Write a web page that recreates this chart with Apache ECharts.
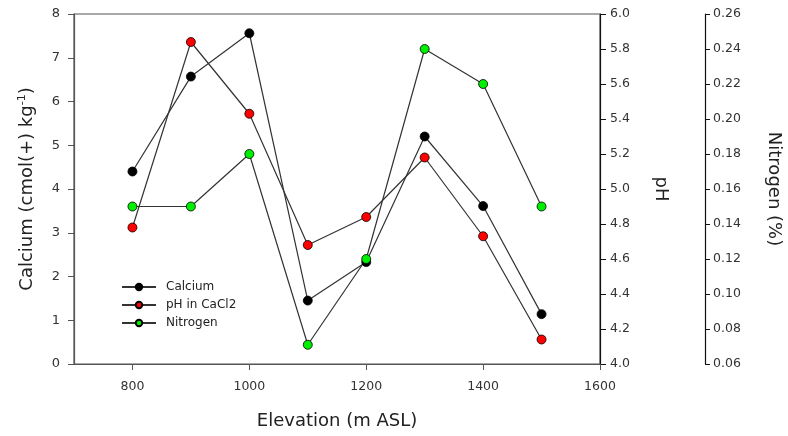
<!DOCTYPE html>
<html>
<head>
<meta charset="utf-8">
<script src="https://cdn.jsdelivr.net/npm/echarts@6/dist/echarts.min.js"></script>
<style>html,body{margin:0;padding:0;background:#fff}#c{width:788px;height:436px}</style>
</head>
<body>
<div id="c"></div>
<script>
var elevations = [800, 900, 1000, 1100, 1200, 1300, 1400, 1500];
var calcium = [4.40, 6.57, 7.56, 1.45, 2.33, 5.20, 3.61, 1.14];
var phCaCl2 = [4.78, 5.84, 5.43, 4.68, 4.84, 5.18, 4.73, 4.14];
var nitrogen = [0.15, 0.15, 0.18, 0.071, 0.12, 0.24, 0.22, 0.15];
var xTicks = [800, 1000, 1200, 1400, 1600];

function pairs(vals) { return elevations.map(function (e, i) { return [e, vals[i]]; }); }

var font = 'DejaVu Sans, Liberation Sans, sans-serif';
var chart = echarts.init(document.getElementById('c'), null, { renderer: 'canvas' });
function mkSeries(name, vals, fill, yi) {
  return {
    name: name, type: 'line', yAxisIndex: yi, data: pairs(vals),
    symbol: 'circle', symbolSize: 9,
    lineStyle: { color: '#333', width: 1.2 },
    itemStyle: { color: fill, borderColor: '#000', borderWidth: 0.8 },
    emphasis: { disabled: true }, animation: false
  };
}
chart.setOption({
  animation: false,
  grid: { left: 74, right: 188, top: 14, bottom: 72, outerBoundsMode: 'none', containLabel: false,
    show: true, borderColor: '#555', borderWidth: 1.2, backgroundColor: 'transparent' },
  legend: {
    orient: 'vertical', left: 116, top: 276, itemGap: 6, itemWidth: 34, itemHeight: 8,
    textStyle: { fontFamily: font, fontSize: 12, color: '#222', padding: [0, 0, 0, 5] },
    data: ['Calcium', 'pH in CaCl2', 'Nitrogen']
  },
  xAxis: {
    type: 'value', min: 700, max: 1600,
    name: 'Elevation (m ASL)', nameLocation: 'middle', nameGap: 48,
    nameTextStyle: { fontFamily: font, fontSize: 18, color: '#222' },
    axisLine: { lineStyle: { color: '#555', width: 1.2 } },
    axisTick: { show: true, inside: false, length: 6, customValues: xTicks, lineStyle: { color: '#555', width: 1 } },
    axisLabel: { customValues: xTicks, fontFamily: font, fontSize: 12.5, color: '#333', margin: 16,
      formatter: function (v) { return String(v); } },
    splitLine: { show: false }
  },
  yAxis: [
    {
      type: 'value', position: 'left', min: 0, max: 8, interval: 1,
      name: 'Calcium (cmol(+) kg{sup|-1})', nameLocation: 'middle', nameGap: 36, nameRotate: 90,
      nameTextStyle: { fontFamily: font, fontSize: 18, color: '#222',
        rich: { sup: { fontFamily: font, fontSize: 11, color: '#222', verticalAlign: 'top', padding: [0, 0, 10, 0] } } },
      axisLine: { show: true, lineStyle: { color: '#555', width: 1.2 } },
      axisTick: { show: true, inside: false, length: 6, lineStyle: { color: '#555', width: 1 } },
      axisLabel: { fontFamily: font, fontSize: 13, color: '#333', margin: 14 },
      splitLine: { show: false }
    },
    {
      type: 'value', position: 'right', min: 4, max: 6, interval: 0.2,
      name: 'pH', nameLocation: 'middle', nameGap: 52, nameRotate: -90,
      nameTextStyle: { fontFamily: font, fontSize: 18, color: '#222' },
      axisLine: { show: true, lineStyle: { color: '#111', width: 1.2 } },
      axisTick: { show: true, inside: false, length: 6, lineStyle: { color: '#111', width: 1 } },
      axisLabel: { fontFamily: font, fontSize: 12.5, color: '#333', margin: 10, formatter: function (v) { return v.toFixed(1); } },
      splitLine: { show: false }
    },
    {
      type: 'value', position: 'right', offset: 105, min: 0.06, max: 0.26, interval: 0.02,
      name: 'Nitrogen (%)', nameLocation: 'middle', nameGap: 60, nameRotate: -90,
      nameTextStyle: { fontFamily: font, fontSize: 18, color: '#222' },
      axisLine: { show: true, lineStyle: { color: '#111', width: 1.2 } },
      axisTick: { show: true, inside: false, length: 5, lineStyle: { color: '#111', width: 1 } },
      axisLabel: { fontFamily: font, fontSize: 12.5, color: '#333', margin: 8, formatter: function (v) { return v.toFixed(2); } },
      splitLine: { show: false }
    }
  ],
  series: [
    mkSeries('Calcium', calcium, '#000000', 0),
    mkSeries('pH in CaCl2', phCaCl2, '#ff0000', 1),
    mkSeries('Nitrogen', nitrogen, '#00ee00', 2)
  ]
});
</script>
</body>
</html>
